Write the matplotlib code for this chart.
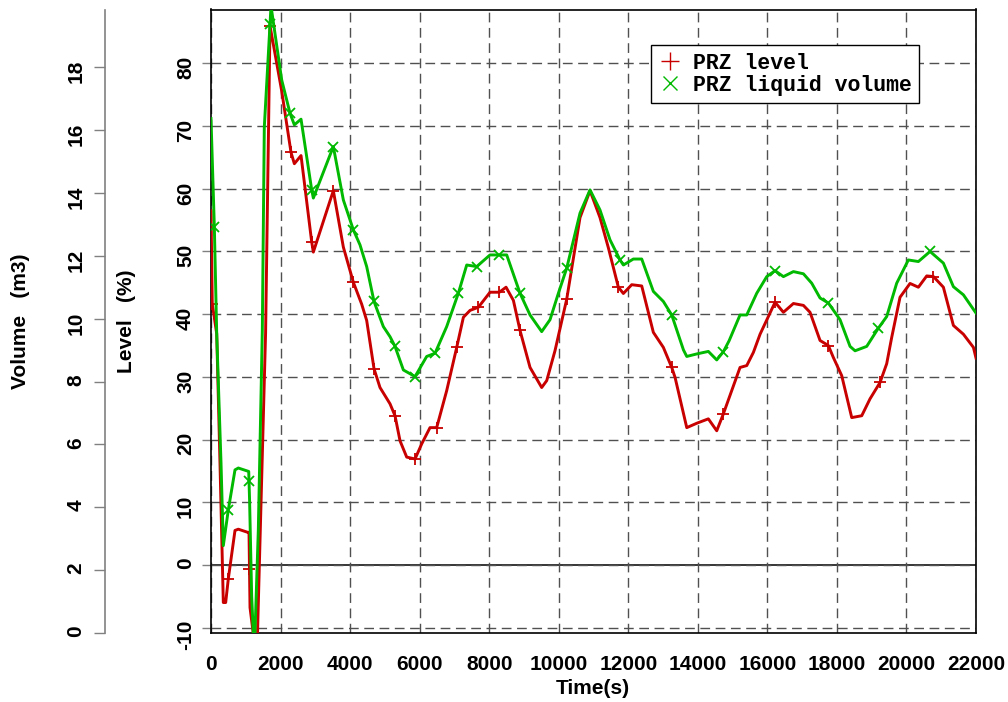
import numpy as np
import matplotlib.pyplot as plt
from matplotlib.lines import Line2D

# Pressurizer level (%) against time (s)
time_level = [0, 37, 164, 259, 354, 422, 498, 690, 786, 1055, 1093, 1122, 1250, 1330,
              1570, 1697, 2033, 2301, 2397, 2589, 2896, 2943, 3518, 3806, 4093, 4333,
              4477, 4688, 4860, 5148, 5292, 5436, 5628, 5868, 6059, 6298, 6490, 6778,
              7066, 7258, 7449, 7689, 8024, 8293, 8485, 8696, 8887, 9175, 9510, 9655,
              9894, 10230, 10612, 10900, 11187, 11427, 11715, 11859, 12099, 12387,
              12721, 13009, 13250, 13346, 13682, 13970, 14303, 14544, 14735, 15214,
              15407, 15598, 15790, 16221, 16461, 16749, 17037, 17227, 17515, 17754,
              17897, 18138, 18426, 18714, 18953, 19240, 19432, 19576, 19815, 20103,
              20343, 20583, 20775, 21062, 21350, 21638, 21926, 22000]
level_pct = [56.5, 41.6, 36.9, 16.1, -6.0, -6.0, -2.2, 5.5, 5.7, 5.2, 5.2, -6.8, -12.5, -12.5,
             37.0, 86.0, 75.6, 65.8, 64.0, 65.3, 51.5, 49.9, 59.7, 50.7, 45.1, 41.6,
             39.0, 31.3, 28.3, 25.7, 23.8, 19.8, 17.2, 16.9, 19.3, 21.9, 21.9, 27.8,
             34.7, 39.5, 40.6, 41.1, 43.5, 43.5, 44.3, 42.2, 37.4, 31.5, 28.3, 29.4,
             34.2, 42.4, 55.4, 59.7, 55.4, 50.6, 44.3, 43.3, 44.7, 44.5,
             37.1, 34.7, 31.5, 29.9, 21.9, 22.6, 23.3, 21.4, 24.1, 31.5,
             31.8, 33.9, 36.8, 41.9, 40.3, 41.7, 41.4, 40.3, 35.8, 35.0,
             33.1, 30.2, 23.5, 23.8, 26.5, 29.1, 32.1, 36.3, 42.7, 44.9,
             44.3, 46.1, 46.0, 44.3, 38.2, 36.8, 34.7, 33.0]

# Pressurizer liquid volume (m3) against time (s)
time_volume = [0, 96, 164, 288, 354, 498, 690, 786, 1085, 1110, 1170, 1217, 1265, 1361,
               1476, 1533, 1726, 2033, 2272, 2397, 2589, 2896, 2943, 3518, 3806, 4093,
               4285, 4477, 4688, 4956, 5148, 5292, 5532, 5868, 6203, 6442, 6778, 7113,
               7354, 7641, 8024, 8293, 8504, 8887, 9175, 9510, 9750, 9990, 10230, 10612,
               10900, 11187, 11475, 11763, 11859, 12146, 12387, 12721, 13009, 13250,
               13586, 13682, 13970, 14303, 14544, 14735, 14900, 15214, 15407, 15694,
               15982, 16221, 16461, 16749, 17037, 17276, 17515, 17754, 18090, 18378,
               18522, 18857, 19192, 19432, 19719, 20055, 20343, 20679, 21062, 21350,
               21638, 22000]
volume_m3 = [16.37, 12.93, 9.54, 5.41, 2.78, 3.92, 5.19, 5.25, 5.14, 4.2, 1.16, 0.0, 0.0, 3.29,
             9.65, 16.1, 19.95, 17.6, 16.54, 16.17, 16.35, 14.1, 13.84, 15.48, 13.78, 12.83,
             12.35, 11.66, 10.55, 9.75, 9.43, 9.12, 8.37, 8.16, 8.8, 8.9, 9.75, 10.81,
             11.71, 11.66, 12.03, 12.03, 12.03, 10.81, 10.12, 9.59, 9.97, 10.81, 11.61, 13.36,
             14.1, 13.46, 12.51, 11.87, 11.71, 11.9, 11.9, 10.87, 10.55, 10.12,
             9.01, 8.8, 8.88, 8.96, 8.69, 8.95, 9.3, 10.12, 10.12, 10.81,
             11.34, 11.53, 11.34, 11.5, 11.43, 11.13, 10.66, 10.5, 9.97, 9.12,
             8.98, 9.12, 9.7, 10.07, 11.13, 11.87, 11.82, 12.14, 11.77, 11.02,
             10.76, 10.18]

# times at which the symbols are placed along each curve
level_marker_times = [37, 498, 1107, 1697, 2301, 2896, 3518, 4093, 4688, 5292, 5868, 6490,
                      7066, 7689, 8293, 8887, 10230, 11715, 13250, 14735, 16221, 17754,
                      19240, 20775]
volume_marker_times = [96, 498, 1093, 1697, 2272, 2896, 3518, 4093, 4688, 5292, 5868, 6442,
                       7113, 7641, 8293, 8887, 10230, 11763, 13250, 14735, 16221, 17754,
                       19192, 20679]

series_labels = ["PRZ level", "PRZ liquid volume"]
time_ticks = list(range(0, 22001, 2000))
level_ticks = list(range(-10, 81, 10))
volume_ticks = list(range(0, 19, 2))

red = "#c80000"
green = "#00b900"
grid_color = "#505050"
axis_grey = "#808080"

plt.rcParams["font.family"] = ["Liberation Sans Narrow", "Liberation Sans", "DejaVu Sans"]
plt.rcParams["font.weight"] = "bold"
plt.rcParams["font.size"] = 15
plt.rcParams["axes.unicode_minus"] = False

W, H = 1008, 702
fig = plt.figure(figsize=(W / 100, H / 100), dpi=100)
ax = fig.add_axes([211 / W, 69 / H, 765 / W, 623.5 / H])
ax.set_xlim(0, 22000)
ax.set_ylim(-10.86, 88.6)

# volume scale sits on a second axis, its spine pushed out to the left
ax2 = ax.twinx()
ax2.set_ylim(0, 19.84)

# grid and zero line
ax.set_xticks(time_ticks)
ax.set_yticks(level_ticks)
ax.grid(True, color=grid_color, lw=1.0, ls=(0, (7, 4)))
ax.axhline(0, color="black", lw=1.1, zorder=1.5)

# curves
ax.plot(time_level, level_pct, color=red, lw=2.1, zorder=3)
ax.plot(level_marker_times, np.interp(level_marker_times, time_level, level_pct),
        ls="none", marker="+", ms=9, mew=1.3, color=red, zorder=3)
ax2.plot(time_volume, volume_m3, color=green, lw=2.1, zorder=3)
ax2.plot(volume_marker_times, np.interp(volume_marker_times, time_volume, volume_m3),
         ls="none", marker="x", ms=7, mew=1.3, color=green, zorder=3)

# level axis (inner)
for side in ["left", "right", "top", "bottom"]:
    ax.spines[side].set_color("black")
    ax.spines[side].set_linewidth(1.2)
ax.tick_params(axis="y", direction="out", length=6.5, width=1.0, color=axis_grey,
               labelrotation=90, pad=5)
ax.tick_params(axis="x", length=0, pad=16)

# volume axis (outer)
for side in ["right", "top", "bottom"]:
    ax2.spines[side].set_visible(False)
ax2.spines["left"].set_visible(True)
ax2.spines["left"].set_position(("outward", (211 - 105) * 0.72))
ax2.spines["left"].set_color(axis_grey)
ax2.spines["left"].set_linewidth(1.2)
ax2.yaxis.set_ticks_position("left")
ax2.set_yticks(volume_ticks)
ax2.tick_params(axis="y", direction="out", length=8, width=1.0, color=axis_grey,
                labelrotation=90, pad=6)

# axis titles
fig.text(21 / W, 1 - 321 / H, "Volume   (m3)", rotation=90, ha="center", va="center")
fig.text(127 / W, 1 - 321 / H, "Level   (%)", rotation=90, ha="center", va="center")
fig.text(593 / W, 1 - 688 / H, "Time(s)", ha="center", va="center")

# legend
handles = [
    Line2D([], [], ls="none", marker="+", ms=13, mew=1.0, color=red),
    Line2D([], [], ls="none", marker="x", ms=10, mew=1.0, color=green),
]
leg = ax2.legend(handles, series_labels, loc="upper left",
                 bbox_to_anchor=(651 / W, 1 - 45 / H), bbox_transform=fig.transFigure,
                 prop={"family": ["Liberation Mono", "DejaVu Sans Mono"],
                       "weight": "bold", "size": 15.5},
                 frameon=True, fancybox=False, framealpha=1, edgecolor="black",
                 borderpad=0.35, labelspacing=0.05, handlelength=1.1,
                 handletextpad=0.5, borderaxespad=0)
leg.get_frame().set_linewidth(1.0)

fig.savefig("out.png", dpi=100)
